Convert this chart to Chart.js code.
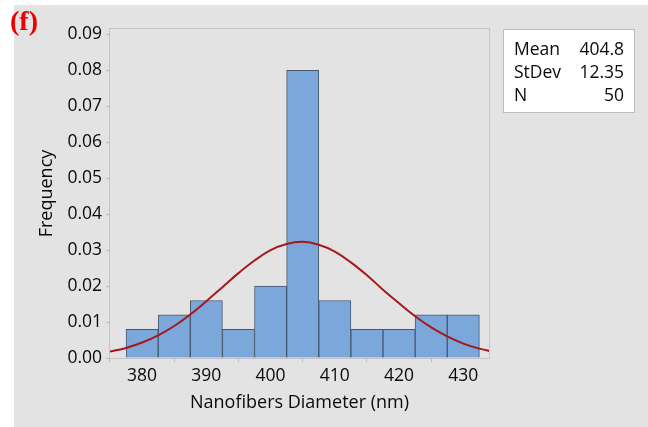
<!DOCTYPE html>
<html>
<head>
<meta charset="utf-8">
<script src="https://cdn.jsdelivr.net/npm/chart.js@4.4.1/dist/chart.umd.min.js"></script>
<style>
  html, body { margin: 0; padding: 0; background: #ffffff; }
  #wrap { position: relative; width: 648px; height: 427px; }
  #panel { position: absolute; left: 14px; top: 5px; right: 0; bottom: 0; background: #e3e3e3; }
  #c { position: absolute; left: 0; top: 0; }
</style>
</head>
<body>
<div id="wrap">
  <div id="panel"></div>
  <canvas id="c" width="648" height="427"></canvas>
</div>
<script>
// histogram bins (centre of each 5 nm bin) and their density values
const binCenters = [380, 385, 390, 395, 400, 405, 410, 415, 420, 425, 430];
const binDensity = [0.008, 0.012, 0.016, 0.008, 0.020, 0.080, 0.016, 0.008, 0.008, 0.012, 0.012];

// fitted normal curve
const curveX = [375, 377.5, 380, 382.5, 385, 387.5, 390, 392.5, 395, 397.5, 400, 402.5, 405, 407.5, 410, 412.5, 415, 417.5, 420, 422.5, 425, 427.5, 430, 432.5, 435];
const curveY = [0.0018, 0.0028, 0.0043, 0.0063, 0.0089, 0.0121, 0.0158, 0.0197, 0.0236, 0.0271, 0.0300, 0.0317, 0.0323, 0.0315, 0.0296, 0.0266, 0.0230, 0.0190, 0.0152, 0.0116, 0.0085, 0.0060, 0.0040, 0.0026, 0.0016];

const xTicks = [380, 390, 400, 410, 420, 430];
const yTicks = [0, 0.01, 0.02, 0.03, 0.04, 0.05, 0.06, 0.07, 0.08, 0.09];

const statLabels = ['Mean', 'StDev', 'N'];
const statValues = ['404.8', '12.35', '50'];

const FONT = "'Open Sans', 'Noto Sans', sans-serif";

const decorPlugin = {
    id: 'decor',
    afterDraw(chart) {
        const ctx = chart.ctx;
        const a = chart.chartArea;
        ctx.save();
        // frame of plot
        ctx.strokeStyle = '#c4c4c4';
        ctx.lineWidth = 1;
        ctx.strokeRect(a.left - 0.5, a.top - 0.5, a.right - a.left + 1, a.bottom - a.top + 1);

        // axis titles
        ctx.fillStyle = '#0a0a0a';
        ctx.font = '18px ' + FONT;
        ctx.textAlign = 'center';
        ctx.textBaseline = 'middle';
        ctx.fillText('Nanofibers Diameter (nm)', (a.left + a.right) / 2, 403);
        ctx.save();
        ctx.translate(47, (a.top + a.bottom) / 2);
        ctx.rotate(-Math.PI / 2);
        ctx.fillText('Frequency', 0, 0);
        ctx.restore();

        // stats box
        ctx.fillStyle = '#ffffff';
        ctx.fillRect(503, 29, 131, 83);
        ctx.strokeStyle = '#bdbdbd';
        ctx.strokeRect(503.5, 29.5, 131, 83);
        ctx.fillStyle = '#0a0a0a';
        ctx.font = '17.5px ' + FONT;
        statLabels.forEach((s, i) => {
            const y = 50 + i * 23;
            ctx.textAlign = 'left';
            ctx.fillText(s, 514, y);
            ctx.textAlign = 'right';
            ctx.fillText(statValues[i], 624, y);
        });

        // panel letter
        ctx.fillStyle = '#ee0000';
        ctx.font = "bold 28px 'Liberation Serif', 'DejaVu Serif', serif";
        ctx.textAlign = 'left';
        ctx.fillText('(f)', 10, 23);
        ctx.restore();
    }
};

new Chart(document.getElementById('c'), {
    type: 'bar',
    data: {
        datasets: [
            {
                type: 'line',
                data: curveX.map((x, i) => ({ x: x, y: curveY[i] })),
                borderColor: '#a3191c',
                borderWidth: 2,
                pointRadius: 0,
                tension: 0.4,
                fill: false,
                order: 0
            },
            {
                type: 'bar',
                data: binCenters.map((x, i) => ({ x: x, y: binDensity[i] })),
                backgroundColor: '#7ba7da',
                borderColor: '#46586e',
                borderWidth: 1,
                barPercentage: 1,
                categoryPercentage: 1,
                grouped: false,
                order: 1
            }
        ]
    },
    options: {
        responsive: false,
        animation: false,
        layout: { padding: { left: 0, top: 29, right: 159, bottom: 0 } },
        plugins: { legend: { display: false }, tooltip: { enabled: false } },
        scales: {
            x: {
                type: 'linear',
                min: 375,
                max: 434,
                offset: false,
                afterBuildTicks: (scale) => { scale.ticks = xTicks.map(v => ({ value: v })); },
                afterFit: (scale) => { scale.height = 69; },
                ticks: { color: '#0a0a0a', font: { family: FONT, size: 17.5 }, padding: 4 },
                grid: { drawOnChartArea: false, drawTicks: true, tickLength: 4, color: '#bdbdbd' },
                border: { display: false }
            },
            y: {
                min: 0,
                max: 0.0915,
                afterBuildTicks: (scale) => { scale.ticks = yTicks.map(v => ({ value: v })); },
                afterFit: (scale) => { scale.width = 110; },
                ticks: {
                    color: '#0a0a0a',
                    font: { family: FONT, size: 17.5 },
                    padding: 4,
                    callback: (v) => v.toFixed(2)
                },
                grid: { drawOnChartArea: false, drawTicks: true, tickLength: 4, color: '#bdbdbd' },
                border: { display: false }
            }
        }
    },
    plugins: [decorPlugin]
});
</script>
</body>
</html>
